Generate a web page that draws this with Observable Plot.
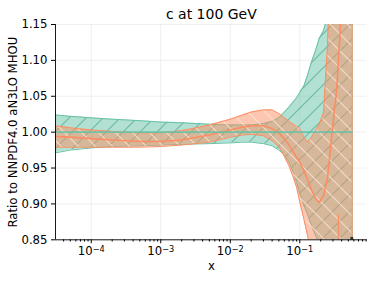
<!DOCTYPE html>
<html>
<head>
<meta charset="utf-8">
<script src="https://cdn.jsdelivr.net/npm/d3@7"></script>
<script src="https://cdn.jsdelivr.net/npm/@observablehq/plot@0.6"></script>
<style>
  html, body { margin: 0; padding: 0; background: #fff; }
</style>
</head>
<body>
<div id="chart"></div>
<script>
// ---- data ----
const xs        = [3e-5, 5e-5, 1e-4, 2e-4, 5e-4, 1e-3, 2e-3, 5e-3, 1e-2, 1.5e-2, 2e-2, 3e-2, 4e-2, 5e-2, 6e-2, 7e-2, 8e-2, 9e-2, 0.1, 0.115, 0.13, 0.15, 0.17, 0.19, 0.22, 0.25, 0.28, 0.31, 0.34, 0.36, 0.38, 0.42, 0.47, 0.52, 0.567];
const greenMid  = xs.map(() => 1.0);
const greenLo   = [0.971, 0.975, 0.978, 0.980, 0.981, 0.982, 0.983, 0.984, 0.985, 0.986, 0.986, 0.984, 0.981, 0.975, 0.968, 0.958, 0.945, 0.930, 0.915, 0.897, 0.885, 0.868, 0.855, 0.845, 0.830, 0.810, 0.800, 0.800, 0.800, 0.800, 0.800, 0.800, 0.800, 0.800, 0.800];
const greenHi   = [1.024, 1.022, 1.020, 1.018, 1.016, 1.014, 1.013, 1.011, 1.010, 1.010, 1.010, 1.012, 1.015, 1.020, 1.028, 1.035, 1.042, 1.048, 1.055, 1.065, 1.080, 1.100, 1.115, 1.130, 1.142, 1.160, 1.250, 1.300, 1.300, 1.300, 1.300, 1.300, 1.300, 1.300, 1.300];
const orangeLo  = [0.979, 0.979, 0.979, 0.979, 0.979, 0.980, 0.982, 0.986, 0.993, 0.996, 0.997, 0.995, 0.988, 0.980, 0.966, 0.953, 0.938, 0.923, 0.903, 0.878, 0.855, 0.830, 0.800, 0.780, 0.760, 0.750, 0.750, 0.750, 0.780, 0.885, 0.780, 0.750, 0.750, 0.750, 0.750];
const orangeMid = [0.994, 0.993, 0.991, 0.989, 0.987, 0.987, 0.989, 0.996, 1.003, 1.007, 1.009, 1.009, 1.005, 0.999, 0.991, 0.982, 0.973, 0.965, 0.958, 0.946, 0.933, 0.918, 0.907, 0.902, 0.912, 0.936, 0.982, 1.025, 1.060, 1.100, 1.140, 1.220, 1.300, 1.350, 1.400];
const orangeHi  = [1.009, 1.006, 1.003, 1.001, 0.999, 0.999, 1.002, 1.010, 1.018, 1.024, 1.028, 1.031, 1.031, 1.026, 1.020, 1.015, 1.011, 1.008, 1.005, 0.993, 0.986, 0.994, 1.003, 1.011, 1.027, 1.120, 1.250, 1.300, 1.300, 1.300, 1.300, 1.300, 1.300, 1.300, 1.300];
const yTicks    = [0.85, 0.90, 0.95, 1.00, 1.05, 1.10, 1.15];
const xMajor    = [1e-4, 1e-3, 1e-2, 1e-1];
const xMajorBase = "10";
const xMajorExp  = ["\u22124", "\u22123", "\u22122", "\u22121"];
const xMinor    = [4e-5,5e-5,6e-5,7e-5,8e-5,9e-5, 2e-4,3e-4,4e-4,5e-4,6e-4,7e-4,8e-4,9e-4, 2e-3,3e-3,4e-3,5e-3,6e-3,7e-3,8e-3,9e-3, 2e-2,3e-2,4e-2,5e-2,6e-2,7e-2,8e-2,9e-2, 0.2,0.3,0.4,0.5,0.6,0.7,0.8,0.9];
const title     = "c at 100 GeV";
const xLabel    = "x";
const yLabel    = "Ratio to NNPDF4.0 aN3LO MHOU";
const marker    = [{x: 0.56, y: 0.852}];

// ---- build tables ----
const rows = xs.map((x, i) => ({x, gMid: greenMid[i], gLo: greenLo[i], gHi: greenHi[i], oLo: orangeLo[i], oMid: orangeMid[i], oHi: orangeHi[i]}));
function outline(lo, hi) {
  const top = rows.map(r => ({x: r.x, y: r[hi]}));
  const bot = rows.slice().reverse().map(r => ({x: r.x, y: r[lo]}));
  return [...top, ...bot, top[0]];
}
const green = "#66c2a5", orange = "#fc8d62";
const xDomain = [3.06e-5, 0.933];
const FS = 11.7;
const majorIndex = d => xMajor.findIndex(v => Math.abs(v - d) / v < 1e-6);

const svg = Plot.plot({
  width: 374, height: 281,
  marginLeft: 55, marginRight: 7.3, marginTop: 24, marginBottom: 41.7,
  style: {fontFamily: "'DejaVu Sans', sans-serif", fontSize: FS + "px", color: "#000", background: "#fff"},
  x: {type: "log", domain: xDomain},
  y: {domain: [0.85, 1.15]},
  marks: [
    Plot.gridY({ticks: yTicks, stroke: "#bbbbbb", strokeOpacity: 0.22}),
    Plot.gridX({ticks: xMajor, stroke: "#bbbbbb", strokeOpacity: 0.22}),
    Plot.areaY(rows, {x: "x", y1: "gLo", y2: "gHi", fill: green, fillOpacity: 0.5, clip: true}),
    Plot.areaY(rows, {x: "x", y1: "gLo", y2: "gHi", fill: "url(#hatch-green)", clip: true}),
    Plot.line(outline("gLo", "gHi"), {x: "x", y: "y", stroke: green, strokeWidth: 1, clip: true}),
    Plot.areaY(rows, {x: "x", y1: "oLo", y2: "oHi", fill: orange, fillOpacity: 0.5, clip: true}),
    Plot.areaY(rows, {x: "x", y1: "oLo", y2: "oHi", fill: "url(#hatch-orange)", clip: true}),
    Plot.line(outline("oLo", "oHi"), {x: "x", y: "y", stroke: orange, strokeWidth: 1, clip: true}),
    Plot.line(rows, {x: "x", y: "oMid", stroke: orange, strokeWidth: 1.6, clip: true}),
    Plot.line(rows, {x: "x", y: "gMid", stroke: green, strokeWidth: 1.6, strokeOpacity: 0.9, clip: true}),
    Plot.dot(marker, {x: "x", y: "y", symbol: "square", r: 1.6, fill: "#333", stroke: null}),
    Plot.ruleY([0.85], {stroke: "#000", strokeWidth: 0.9}),
    Plot.ruleX([xDomain[0]], {stroke: "#000", strokeWidth: 0.9}),
    Plot.axisY({ticks: yTicks, tickSize: 4, tickPadding: 4, fontSize: FS, tickFormat: d3.format(".2f"), label: null, stroke: "#000", fill: "#000"}),
    Plot.axisX({ticks: xMajor, tickSize: 4, tickPadding: 3, fontSize: FS, tickFormat: d => "XTICK" + majorIndex(d), label: null, stroke: "#000", fill: "#000"}),
    Plot.axisX({ticks: xMinor, tickSize: 2.2, tickFormat: () => "", label: null, stroke: "#000"}),
    Plot.text([title], {frameAnchor: "top", textAnchor: "middle", lineAnchor: "middle", dy: -10, fontSize: 14, fill: "#000"}),
    Plot.text([xLabel], {frameAnchor: "bottom", textAnchor: "middle", lineAnchor: "middle", dy: 26.5, fontSize: FS, fill: "#000"}),
    Plot.text([yLabel], {frameAnchor: "left", textAnchor: "middle", lineAnchor: "middle", dx: -42, rotate: -90, fontSize: FS, fill: "#000"})
  ]
});

// mathtext-like tick labels: "10" with a raised, smaller exponent
d3.select(svg).selectAll("text").each(function() {
  const t = this.textContent;
  const m = /^XTICK(\d+)$/.exec(t);
  if (!m) return;
  const i = +m[1];
  const node = this.querySelector("tspan") || this;
  node.textContent = "";
  const sel = d3.select(node);
  sel.append("tspan").text(xMajorBase);
  sel.append("tspan").attr("dy", "-0.42em").attr("font-size", "0.7em").text(xMajorExp[i]);
});

// hatch patterns (matplotlib-like "/" and "\")
const s = 17;
const defs = d3.select(svg).insert("defs", ":first-child");
function pattern(id, d, color, op) {
  const p = defs.append("pattern").attr("id", id).attr("patternUnits", "userSpaceOnUse")
    .attr("width", s).attr("height", s);
  p.append("path").attr("d", d).attr("fill", "none").attr("stroke", color)
    .attr("stroke-width", 1.1).attr("stroke-opacity", op);
}
pattern("hatch-green", `M-1,1 l2,-2 M0,${s} l${s},-${s} M${s-1},${s+1} l2,-2`, "#3f9d80", 0.6);
pattern("hatch-orange", `M-1,${s-1} l2,2 M0,0 l${s},${s} M${s-1},-1 l2,2`, "#ffe6dc", 0.75);

document.getElementById("chart").appendChild(svg);
</script>
</body>
</html>
